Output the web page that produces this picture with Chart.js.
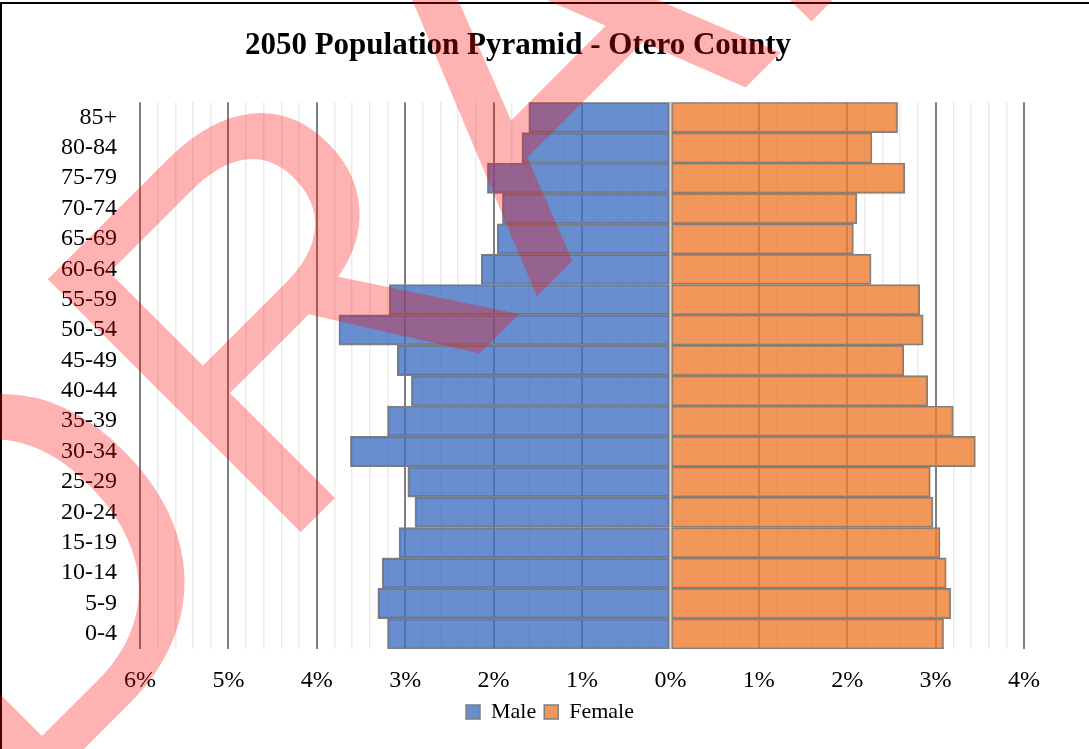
<!DOCTYPE html>
<html>
<head>
<meta charset="utf-8">
<title>2050 Population Pyramid - Otero County</title>
<script src="https://cdn.jsdelivr.net/npm/chart.js@4.4.1/dist/chart.umd.min.js"></script>
<style>
  html, body { margin: 0; padding: 0; background: #fff; overflow: hidden; }
  #pyramid { display: block; }
</style>
</head>
<body>
<canvas id="pyramid" width="1089" height="749"></canvas>
<script>
// Share of total county population by age group and sex (%)
const ageGroups = ['85+', '80-84', '75-79', '70-74', '65-69', '60-64', '55-59', '50-54', '45-49',
                   '40-44', '35-39', '30-34', '25-29', '20-24', '15-19', '10-14', '5-9', '0-4'];
const malePct   = [1.60, 1.68, 2.07, 1.90, 1.96, 2.14, 3.18, 3.75, 3.09,
                   2.93, 3.20, 3.62, 2.97, 2.89, 3.07, 3.26, 3.31, 3.20];
const femalePct = [2.57, 2.28, 2.65, 2.11, 2.07, 2.27, 2.82, 2.86, 2.64,
                   2.91, 3.20, 3.45, 2.94, 2.97, 3.05, 3.12, 3.17, 3.09];
const pctTickLabels = ['6%', '5%', '4%', '3%', '2%', '1%', '0%', '1%', '2%', '3%', '4%'];
const axisMin = -6;
const axisMax = 4;

const serif = '"Liberation Serif", "Times New Roman", serif';
const isWhole = v => Math.abs(v - Math.round(v)) < 1e-6;

const overlay = {
    id: 'overlay',
    beforeDraw(chart) {
        const ctx = chart.ctx;
        ctx.save();
        ctx.fillStyle = '#fff';
        ctx.fillRect(0, 0, chart.width, chart.height);
        // page frame
        ctx.strokeStyle = '#000';
        ctx.lineWidth = 2;
        ctx.beginPath();
        ctx.moveTo(1, chart.height);
        ctx.lineTo(1, 3);
        ctx.lineTo(chart.width, 3);
        ctx.stroke();
        ctx.restore();
    },
    afterLayout(chart) {
        // legend sits a bit right of the title
        chart.legend.left += 32;
        chart.legend.right += 32;
    },
    afterDatasetsDraw(chart) {
        const {ctx, chartArea, scales} = chart;
        const x0 = scales.x.getPixelForValue(0);
        ctx.save();
        ctx.strokeStyle = '#d9d9d9';
        ctx.lineWidth = 2;
        ctx.beginPath();
        ctx.moveTo(x0, chartArea.top);
        ctx.lineTo(x0, chartArea.bottom);
        ctx.stroke();
        ctx.restore();
    },
    afterDraw(chart) {
        // DRAFT stamp across the figure
        const ctx = chart.ctx;
        ctx.save();
        ctx.translate(5, 828);
        ctx.rotate(-Math.PI / 4);
        ctx.font = '520px "Liberation Sans", Arial, sans-serif';
        ctx.fillStyle = 'rgba(255, 0, 0, 0.3)';
        ctx.textAlign = 'left';
        ctx.textBaseline = 'alphabetic';
        ctx.fillText('DRAFT', 0, 0);
        ctx.restore();
    }
};

new Chart(document.getElementById('pyramid'), {
    type: 'bar',
    data: {
        labels: ageGroups,
        datasets: [
            {
                label: 'Male',
                data: malePct.map(v => -v),
                backgroundColor: 'rgba(68, 114, 196, 0.8)',
                borderColor: '#7f7f7f',
                borderWidth: 1.5,
                borderSkipped: false
            },
            {
                label: 'Female',
                data: femalePct,
                backgroundColor: 'rgba(237, 125, 49, 0.8)',
                borderColor: '#7f7f7f',
                borderWidth: 1.5,
                borderSkipped: false
            }
        ]
    },
    options: {
        indexAxis: 'y',
        responsive: false,
        animation: false,
        barPercentage: 1,
        categoryPercentage: 1,
        layout: { padding: { left: 12, right: 65, top: 0, bottom: 16 } },
        plugins: {
            title: {
                display: true,
                text: '2050 Population Pyramid - Otero County',
                color: '#000',
                font: { family: serif, size: 31, weight: 'bold' },
                padding: { top: 27, bottom: 38 }
            },
            legend: {
                position: 'bottom',
                labels: {
                    color: '#000',
                    font: { family: serif, size: 22 },
                    boxWidth: 14,
                    boxHeight: 14,
                    padding: 8
                }
            },
            tooltip: { enabled: false }
        },
        scales: {
            x: {
                min: axisMin,
                max: axisMax,
                stacked: true,
                afterFit: s => { s.height = 44; },
                ticks: {
                    stepSize: 0.2,
                    autoSkip: false,
                    maxRotation: 0,
                    padding: 17,
                    color: '#000',
                    font: { family: serif, size: 24 },
                    callback: v => isWhole(v) ? pctTickLabels[Math.round(v) - axisMin] : ''
                },
                grid: {
                    drawTicks: false,
                    color: c => isWhole(c.tick.value) ? '#7f7f7f' : '#ebebeb',
                    lineWidth: c => isWhole(c.tick.value) ? 2 : 1.5
                },
                border: { display: false }
            },
            y: {
                stacked: true,
                afterFit: s => { s.width = 128; },
                ticks: {
                    autoSkip: false,
                    padding: 15,
                    color: '#000',
                    font: { family: serif, size: 24 }
                },
                grid: { display: false },
                border: { display: false }
            }
        }
    },
    plugins: [overlay]
});
</script>
</body>
</html>
